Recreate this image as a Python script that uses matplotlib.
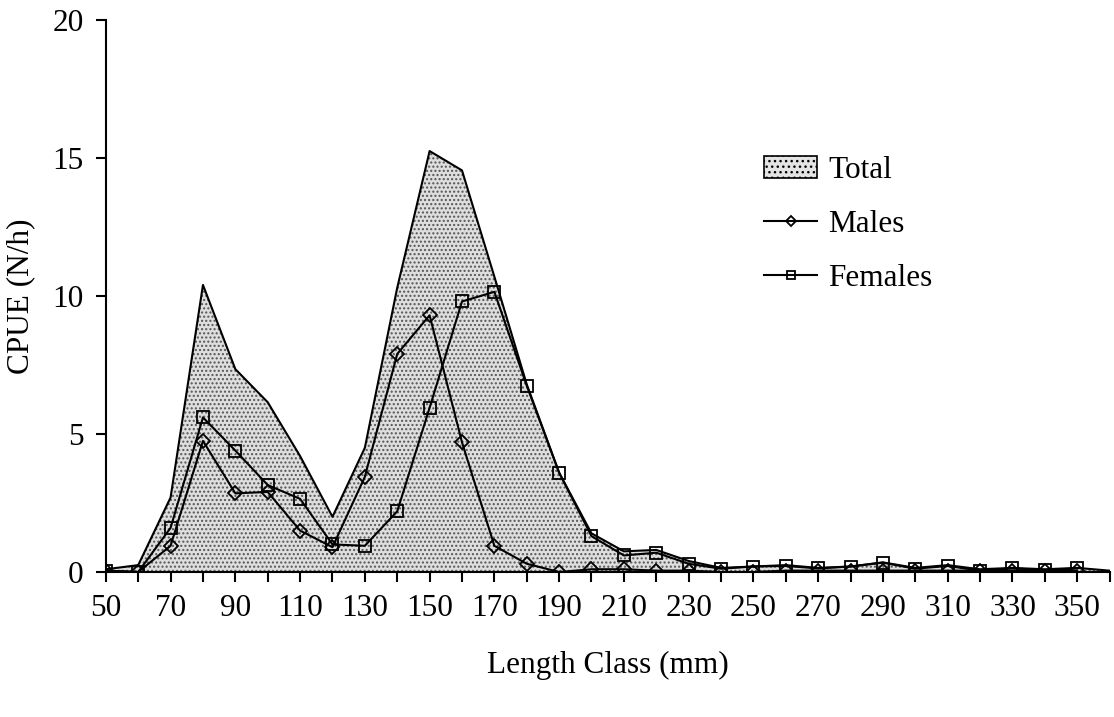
import matplotlib.pyplot as plt
import numpy as np

# length classes (mm)
length = [50, 60, 70, 80, 90, 100, 110, 120, 130, 140, 150, 160, 170, 180, 190,
          200, 210, 220, 230, 240, 250, 260, 270, 280, 290, 300, 310, 320, 330,
          340, 350, 360]

total = [0.1, 0.25, 2.7, 10.4, 7.35, 6.15, 4.2, 2.0, 4.5, 10.3, 15.25, 14.55,
         10.7, 6.8, 3.6, 1.4, 0.75, 0.8, 0.4, 0.15, 0.2, 0.25, 0.15, 0.2, 0.35,
         0.15, 0.25, 0.1, 0.15, 0.1, 0.15, 0.05]

males = [0.05, 0.0, 0.95, 4.75, 2.85, 2.9, 1.5, 0.9, 3.45, 7.9, 9.3, 4.7,
         0.95, 0.3, 0.0, 0.1, 0.1, 0.05, 0.05, 0.0, 0.0, 0.05, 0.05, 0.05,
         0.05, 0.05, 0.05, 0.05, 0.05, 0.05, 0.05]

females = [0.05, 0.0, 1.6, 5.6, 4.4, 3.15, 2.65, 1.0, 0.95, 2.2, 5.95, 9.8,
           10.15, 6.75, 3.6, 1.3, 0.6, 0.7, 0.3, 0.12, 0.2, 0.22, 0.13, 0.2,
           0.34, 0.12, 0.22, 0.05, 0.13, 0.07, 0.13]

x_ticklabels = list(range(50, 351, 20))

plt.rcParams['font.family'] = ['Liberation Serif', 'DejaVu Serif']
plt.rcParams['hatch.color'] = '#555555'

fig = plt.figure(figsize=(11.14, 7.17), dpi=100)
ax = fig.add_axes([0.095, 0.2022, 0.901, 0.770])

ax.fill_between(length, total, 0, facecolor='#dedede', edgecolor='none',
                hatch='....', linewidth=0)
ax.plot(length, total, color='black', lw=1.5)
# legend proxy for the shaded area
tot_patch = plt.Rectangle((0, 0), 1, 1, facecolor='#e4e4e4', edgecolor='black',
                          lw=1.2, hatch='...')

l_m, = ax.plot(length[:len(males)], males, color='black', lw=1.5, marker='D',
               markersize=7, markerfacecolor='none', markeredgecolor='black',
               markeredgewidth=1.3, label='Males')
l_f, = ax.plot(length[:len(females)], females, color='black', lw=1.5, marker='s',
               markersize=8, markerfacecolor='none', markeredgecolor='black',
               markeredgewidth=1.3, label='Females')

ax.set_xlim(50, 360)
ax.set_ylim(0, 20)
ax.set_yticks([0, 5, 10, 15, 20])
ax.set_xticks(range(50, 361, 10))
ax.set_xticklabels([str(v) if v in x_ticklabels else '' for v in range(50, 361, 10)])

for side in ['top', 'right']:
    ax.spines[side].set_visible(False)
ax.spines['left'].set_linewidth(1.5)
ax.spines['bottom'].set_linewidth(1.5)
ax.tick_params(direction='out', length=7, width=1.5, labelsize=22.5, pad=9)

ax.set_xlabel('Length Class (mm)', fontsize=22.5, labelpad=20)
ax.set_ylabel('CPUE (N/h)', fontsize=22.5, labelpad=12)

leg = ax.legend([tot_patch, l_m, l_f], ['Total', 'Males', 'Females'],
                loc='upper left', bbox_to_anchor=(0.656, 0.754), frameon=False,
                fontsize=22.5, handlelength=1.7, handletextpad=0.35,
                labelspacing=0.8, markerscale=0.7, borderpad=0,
                borderaxespad=0)

plt.savefig('out.png', dpi=100)
